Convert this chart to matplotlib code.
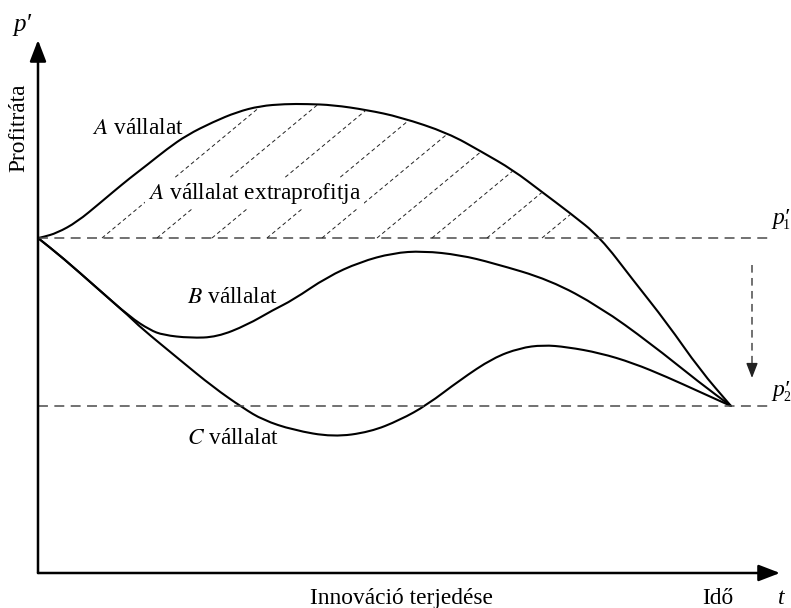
import matplotlib
matplotlib.use("Agg")
import matplotlib.pyplot as plt
from matplotlib.path import Path
from matplotlib.patches import PathPatch

plt.rcParams["font.family"] = ["Liberation Serif", "DejaVu Serif"]
plt.rcParams["mathtext.fontset"] = "stix"

# Görbék pontjai (idő, profitráta)
a_t = [0, 5, 19, 39, 62, 75, 92, 109, 129, 149, 175, 199, 222, 247, 269, 295, 329,
       362, 410, 444, 475, 504, 532, 562, 595, 629, 662, 693]
a_p = [335, 336, 340, 351, 370, 381, 395, 408, 424, 438, 451, 461, 467, 469, 469, 468,
       463, 456, 440, 421, 403, 381, 360, 336, 293, 250, 203, 167]

b_t = [0, 25, 59, 92, 112, 125, 152, 179, 209, 235, 255, 289, 322, 355, 385, 422,
       455, 512, 562, 612, 662, 693]
b_p = [335, 315, 285, 256, 243, 238, 235, 236, 248, 263, 273, 296, 311, 320, 322, 318,
       310, 293, 266, 230, 190, 167]

c_t = [0, 25, 59, 92, 102, 142, 175, 205, 225, 255, 295, 332, 362, 389, 422, 455,
       482, 505, 529, 562, 595, 629, 662, 693]
c_p = [335, 315, 285, 256, 246, 213, 186, 165, 153, 143, 136, 141, 153, 168, 193, 215,
       225, 228, 226, 220, 210, 196, 181, 167]

p1 = 335  # p'1 szint
p2 = 167  # p'2 szint
t_end = 735
hatch_start = [64, 119, 174, 229, 284, 339, 394, 449, 504]
hatch_slope = 0.83


def smooth_path(xs, ys, close=False):
    # kvadratikus Bezier szakaszok a pontok felezőpontjain át
    verts = [(xs[0], ys[0]), ((xs[0] + xs[1]) / 2, (ys[0] + ys[1]) / 2)]
    codes = [Path.MOVETO, Path.LINETO]
    for i in range(1, len(xs) - 1):
        verts.append((xs[i], ys[i]))
        verts.append(((xs[i] + xs[i + 1]) / 2, (ys[i] + ys[i + 1]) / 2))
        codes += [Path.CURVE3, Path.CURVE3]
    verts.append((xs[-1], ys[-1]))
    codes.append(Path.LINETO)
    if close:
        verts.append((xs[0], ys[0]))
        codes.append(Path.CLOSEPOLY)
    return Path(verts, codes)


fig = plt.figure(figsize=(7.91, 6.08), dpi=100)
ax = fig.add_axes([0, 0, 1, 1])
ax.set_xlim(-38, 753)
ax.set_ylim(-35, 573)
ax.axis("off")

# tengelyek nyíllal
arrow_kw = dict(arrowstyle="-|>,head_length=1.3,head_width=0.5", lw=1.8,
                color="black", shrinkA=0, shrinkB=0, mutation_scale=10)
ax.annotate("", xy=(0, 533), xytext=(0, 0), arrowprops=arrow_kw)
ax.annotate("", xy=(742, 0), xytext=(0, 0), arrowprops=arrow_kw)

# szaggatott szintvonalak
for lvl in (p1, p2):
    ax.plot([0, t_end], [lvl, lvl], color="#4a4a4a", lw=1.1,
            linestyle=(0, (6.5, 4.2)))

# lefelé mutató szaggatott nyíl
ax.plot([714, 714], [308, 204], color="#4a4a4a", lw=1.1, linestyle=(0, (5, 3.5)))
ax.annotate("", xy=(714, 195), xytext=(714, 206),
            arrowprops=dict(arrowstyle="-|>,head_length=0.9,head_width=0.35",
                            lw=1.0, color="#222222", shrinkA=0, shrinkB=0,
                            mutation_scale=10))

# vonalkázás az A görbe alatt
clip = smooth_path(a_t, a_p, close=True)
for t0 in hatch_start:
    ln, = ax.plot([t0, t0 + 300], [p1, p1 + hatch_slope * 300], color="#222222",
                  lw=0.7, linestyle=(0, (4, 3)))
    ln.set_clip_path(clip, ax.transData)

# görbék
for xs, ys in ((a_t, a_p), (b_t, b_p), (c_t, c_p)):
    ax.add_patch(PathPatch(smooth_path(xs, ys), fill=False, lw=1.5,
                           edgecolor="black", capstyle="round"))

fs = 16.8
ax.text(54, 439, r"$A$ vállalat", fontsize=fs, va="baseline")
ax.text(110, 374, r"$A$ vállalat extraprofitja", fontsize=fs, va="baseline",
        bbox=dict(facecolor="white", edgecolor="none", pad=2), zorder=5)
ax.text(149, 270, r"$B$ vállalat", fontsize=fs, va="baseline")
ax.text(149, 129, r"$C$ vállalat", fontsize=fs, va="baseline")

ax.text(-19, 445, "Profitráta", fontsize=fs, rotation=90, ha="center", va="center")
ax.text(363, -31, "Innováció terjedése", fontsize=fs, ha="center", va="baseline")
ax.text(664, -31, "Idő", fontsize=fs, va="baseline")
ax.text(740, -31, "t", fontsize=17, style="italic", va="baseline")

# p' jelölések
ax.text(-25, 542, "p′", fontsize=18, style="italic", va="baseline")
for lvl, sub, base in ((p1, "1", 349), (p2, "2", 177)):
    ax.text(734, base, "p′", fontsize=17, style="italic", va="baseline")
    ax.text(745, base - 5, sub, fontsize=10, va="baseline")

fig.savefig("out.png", dpi=100)
